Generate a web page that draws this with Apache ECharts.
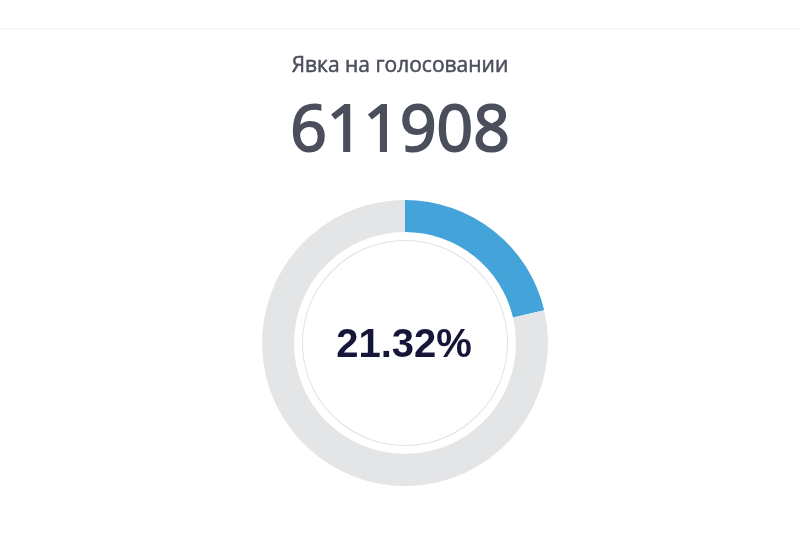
<!DOCTYPE html>
<html>
<head>
<meta charset="utf-8">
<script src="https://cdn.jsdelivr.net/npm/echarts@6/dist/echarts.min.js"></script>
<style>html,body{margin:0;padding:0;background:#fff}#c{width:800px;height:533px}</style>
</head>
<body>
<div id="c"></div>
<script>
const titleText = "Явка на голосовании";
const turnoutCount = 611908;
const categories = ["Явка", "Остальные"];
const turnoutPercent = 21.32;
const values = [turnoutPercent, 100 - turnoutPercent];
const colors = ["#44a3d9", "#e4e5e7"];

const chart = echarts.init(document.getElementById('c'));
chart.setOption({
  backgroundColor: '#ffffff',
  animation: false,
  title: [
    { text: titleText, left: 'center', top: 51,
      textStyle: { fontFamily: 'Open Sans', fontSize: 21, fontWeight: 'normal', color: '#4b4e5b',
                   textBorderColor: '#4b4e5b', textBorderWidth: 0.5 } },
    { text: String(turnoutCount), left: 'center', top: 96,
      textStyle: { fontFamily: 'Open Sans', fontSize: 64, fontWeight: 'normal', color: '#4b4e5b',
                   textBorderColor: '#4b4e5b', textBorderWidth: 2 } },
    { text: turnoutPercent.toFixed(2) + '%', left: 399, top: 341, textAlign: 'center', textVerticalAlign: 'middle',
      textStyle: { fontFamily: 'Liberation Sans', fontSize: 40, fontWeight: 'bold', color: '#16163a' } }
  ],
  graphic: [
    { type: 'line', shape: { x1: 0, y1: 29, x2: 800, y2: 29 }, style: { stroke: '#efefef', lineWidth: 1 } }
  ],
  series: [
    {
      type: 'pie', center: [405, 343], radius: [111, 143], startAngle: 90, clockwise: true,
      silent: true, label: { show: false }, labelLine: { show: false },
      data: categories.map((n, i) => ({ name: n, value: values[i], itemStyle: { color: colors[i] } }))
    },
    {
      type: 'pie', center: [405, 343], radius: [102, 103], silent: true,
      label: { show: false }, labelLine: { show: false },
      data: [{ name: 'ring', value: 1, itemStyle: { color: '#e2e2e2' } }]
    }
  ]
});
</script>
</body>
</html>
